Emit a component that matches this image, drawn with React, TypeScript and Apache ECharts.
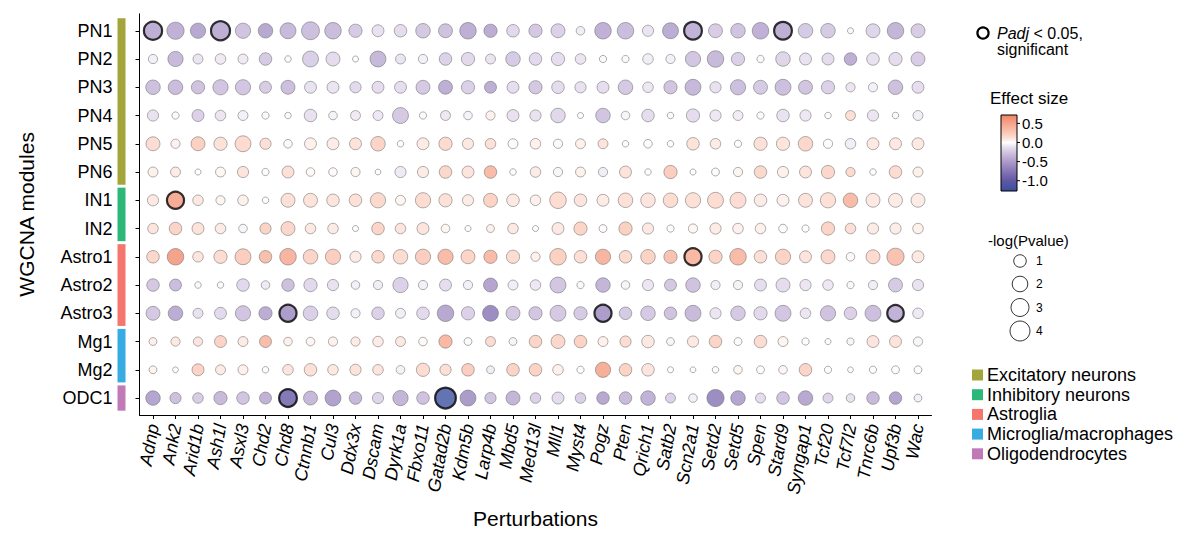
import React, { useEffect, useRef } from "react";
import * as echarts from "echarts";

// Perturbed genes (columns) and WGCNA modules (rows)
const genes = [
  "Adnp", "Ank2", "Arid1b", "Ash1l", "Asxl3", "Chd2", "Chd8", "Ctnnb1", "Cul3", "Ddx3x",
  "Dscam", "Dyrk1a", "Fbxo11", "Gatad2b", "Kdm5b", "Larp4b", "Mbd5", "Med13l", "Mll1", "Myst4",
  "Pogz", "Pten", "Qrich1", "Satb2", "Scn2a1", "Setd2", "Setd5", "Spen", "Stard9", "Syngap1",
  "Tcf20", "Tcf7l2", "Tnrc6b", "Upf3b", "Wac",
];
const modules = ["PN1", "PN2", "PN3", "PN4", "PN5", "PN6", "IN1", "IN2", "Astro1", "Astro2", "Astro3", "Mg1", "Mg2", "ODC1"];

// Effect size per module, one value per gene
const effectPN1 = [-0.5, -0.48, -0.55, -0.5, -0.35, -0.55, -0.42, -0.38, -0.4, -0.3, -0.15, -0.18, -0.32, -0.36, -0.5, -0.52, -0.2, -0.32, -0.25, -0.08, -0.48, -0.4, -0.13, -0.52, -0.47, -0.28, -0.35, -0.48, -0.5, -0.3, -0.3, -0.03, -0.22, -0.45, -0.28];
const effectPN2 = [-0.07, -0.42, -0.13, -0.1, -0.1, -0.3, -0.02, -0.26, -0.18, -0.01, -0.43, -0.13, -0.07, -0.24, -0.2, -0.13, -0.3, -0.2, -0.17, -0.13, -0.03, -0.03, -0.08, -0.07, -0.33, -0.42, -0.26, -0.03, -0.22, -0.14, -0.18, -0.5, -0.14, -0.18, -0.28];
const effectPN3 = [-0.37, -0.4, -0.36, -0.34, -0.33, -0.28, -0.38, -0.14, -0.13, -0.19, -0.18, -0.17, -0.31, -0.5, -0.26, -0.5, -0.17, -0.32, -0.18, -0.15, -0.17, -0.31, -0.11, -0.34, -0.43, -0.15, -0.38, -0.3, -0.38, -0.34, -0.25, -0.12, -0.07, -0.37, -0.17];
const effectPN4 = [-0.14, -0.02, -0.25, -0.12, -0.07, -0.03, -0.02, -0.15, -0.06, -0.1, -0.11, -0.31, -0.02, -0.11, -0.06, 0.06, -0.15, -0.14, -0.21, -0.01, -0.34, -0.05, -0.18, -0.03, -0.18, -0.11, -0.09, -0.02, -0.14, -0.11, -0.02, 0.17, -0.12, -0.03, -0.08];
const effectPN5 = [0.18, 0.06, 0.28, 0.15, 0.2, 0.17, 0.03, 0.07, 0.08, 0.14, 0.24, 0.01, 0.09, 0.2, 0.1, 0.16, 0.03, 0.06, -0.02, 0.07, 0.14, 0.01, 0.02, 0.0, 0.14, 0.09, 0.01, 0.16, 0.12, 0.22, 0.02, -0.08, 0.1, 0.1, 0.1];
const effectPN6 = [0.07, 0.09, 0.0, 0.04, 0.12, 0.02, 0.16, 0.03, 0.02, 0.05, 0.01, -0.1, 0.09, 0.22, 0.12, 0.45, 0.01, 0.09, -0.04, 0.07, -0.08, 0.14, 0.0, 0.3, 0.0, 0.02, 0.05, 0.21, 0.07, 0.13, 0.22, 0.2, 0.0, 0.19, 0.07];
const effectIN1 = [0.1, 0.58, 0.1, 0.05, 0.07, 0.01, 0.16, 0.14, 0.12, 0.16, 0.21, 0.04, 0.19, 0.16, 0.09, 0.26, 0.1, 0.07, 0.19, 0.12, 0.09, 0.16, 0.12, 0.19, 0.16, 0.19, 0.18, 0.09, 0.06, 0.14, 0.16, 0.45, 0.1, 0.09, 0.09];
const effectIN2 = [0.12, 0.24, 0.14, 0.09, -0.05, 0.25, 0.22, 0.1, 0.09, 0.0, 0.24, 0.12, 0.12, 0.04, 0.0, 0.06, 0.1, 0.0, 0.1, 0.24, 0.02, 0.28, 0.1, 0.0, 0.04, 0.09, 0.06, 0.07, 0.02, 0.0, 0.24, 0.17, 0.09, 0.08, 0.07];
const effectAstro1 = [0.22, 0.66, 0.12, 0.19, 0.3, 0.42, 0.5, 0.24, 0.3, 0.09, 0.21, 0.19, 0.3, 0.45, 0.24, 0.45, 0.19, 0.07, 0.28, 0.17, 0.5, 0.2, 0.26, 0.4, 0.48, 0.26, 0.45, 0.17, 0.26, 0.12, 0.22, 0.03, 0.2, 0.4, 0.1];
const effectAstro2 = [-0.32, -0.4, -0.03, -0.02, -0.2, -0.1, -0.37, -0.2, -0.14, -0.07, -0.08, -0.25, -0.07, -0.17, -0.07, -0.58, -0.08, -0.11, -0.33, -0.03, -0.45, -0.05, -0.12, -0.32, -0.36, -0.08, -0.06, -0.17, -0.18, -0.12, -0.11, -0.03, -0.08, -0.3, -0.14];
const effectAstro3 = [-0.32, -0.52, -0.14, -0.19, -0.34, -0.52, -0.65, -0.26, -0.18, -0.07, -0.25, -0.08, -0.19, -0.55, -0.25, -0.78, -0.32, -0.33, -0.31, -0.3, -0.65, -0.3, -0.31, -0.36, -0.41, -0.12, -0.31, -0.2, -0.33, -0.12, -0.36, -0.25, -0.38, -0.47, -0.1];
const effectMg1 = [0.07, 0.1, 0.12, 0.25, 0.09, 0.44, 0.07, 0.04, 0.07, 0.09, 0.09, 0.1, 0.03, 0.48, -0.03, 0.19, -0.05, 0.24, 0.22, 0.26, 0.07, 0.19, 0.1, -0.05, 0.1, 0.24, 0.02, 0.19, 0.05, 0.01, 0.0, -0.05, 0.12, 0.14, -0.04];
const effectMg2 = [0.05, 0.0, 0.26, 0.09, 0.07, 0.0, 0.12, 0.16, 0.1, 0.14, 0.12, -0.06, 0.19, 0.17, 0.3, -0.08, 0.25, 0.26, 0.07, 0.0, 0.56, 0.25, 0.12, 0.0, 0.0, 0.0, 0.04, 0.02, 0.04, 0.24, 0.0, 0.0, 0.0, 0.02, 0.02];
const effectODC1 = [-0.57, -0.37, -0.28, -0.42, -0.34, -0.47, -0.98, -0.43, -0.6, -0.44, -0.22, -0.45, -0.36, -1.25, -0.66, -0.34, -0.45, -0.25, -0.18, -0.26, -0.55, -0.41, -0.47, -0.25, -0.07, -0.78, -0.57, -0.18, -0.34, -0.55, -0.22, -0.14, -0.42, -0.58, -0.07];

// -log(Pvalue) per module, one value per gene
const logpPN1 = [3.1, 2.65, 1.85, 3.5, 1.85, 1.6, 2.11, 2.96, 2.35, 1.2, 0.85, 1.0, 1.6, 1.41, 2.35, 1.2, 1.0, 1.2, 1.41, 0.22, 2.35, 2.35, 0.68, 2.11, 2.9, 1.41, 1.6, 2.35, 2.9, 1.6, 1.6, 0.02, 1.41, 2.35, 1.41];
const logpPN2 = [0.31, 1.85, 0.43, 0.54, 0.43, 1.0, 0.04, 2.11, 1.41, 0.02, 2.11, 0.43, 0.31, 1.0, 1.2, 0.43, 1.6, 1.0, 1.2, 0.54, 0.09, 0.09, 0.54, 0.31, 1.85, 2.35, 1.2, 0.09, 1.6, 0.85, 0.85, 1.0, 1.0, 1.2, 1.41];
const logpPN3 = [1.6, 1.6, 1.2, 1.85, 1.85, 0.85, 1.41, 0.85, 0.85, 0.68, 0.85, 0.85, 1.41, 1.41, 1.2, 0.85, 0.85, 1.2, 1.0, 0.68, 0.85, 1.6, 0.54, 1.2, 2.11, 0.68, 1.85, 1.41, 2.11, 1.41, 1.2, 0.31, 0.31, 1.6, 0.85];
const logpPN4 = [0.68, 0.09, 0.85, 0.54, 0.43, 0.09, 0.04, 1.0, 0.22, 0.43, 0.43, 2.11, 0.09, 0.43, 0.22, 0.31, 0.85, 0.68, 1.6, 0.02, 1.6, 0.22, 1.0, 0.04, 1.2, 0.68, 0.43, 0.09, 1.0, 0.68, 0.04, 0.43, 0.68, 0.04, 0.43];
const logpPN5 = [1.41, 0.31, 1.41, 1.2, 2.11, 0.68, 0.22, 0.85, 0.85, 0.85, 1.6, 0.04, 0.85, 1.2, 0.68, 0.54, 0.43, 0.54, 0.31, 0.43, 0.43, 0.04, 0.22, 0.04, 1.0, 0.54, 0.09, 1.2, 1.2, 1.6, 0.31, 0.54, 0.85, 0.85, 0.85];
const logpPN6 = [0.43, 0.43, 0.02, 0.43, 0.68, 0.09, 0.85, 0.22, 0.22, 0.31, 0.01, 0.68, 0.68, 1.0, 0.85, 1.0, 0.04, 0.54, 0.31, 0.43, 0.31, 0.85, 0.04, 1.2, 0.02, 0.15, 0.31, 1.0, 0.68, 0.85, 1.2, 0.31, 0.04, 1.0, 0.43];
const logpIN1 = [0.68, 2.6, 0.54, 0.31, 0.54, 0.04, 1.41, 1.41, 1.0, 1.0, 1.85, 0.43, 1.85, 1.2, 0.68, 1.41, 1.0, 0.54, 2.35, 1.0, 0.85, 1.6, 1.6, 1.6, 1.85, 2.11, 2.11, 1.0, 0.85, 1.41, 1.85, 1.6, 1.41, 1.41, 1.41];
const logpIN2 = [0.54, 1.0, 0.85, 0.54, 0.22, 0.68, 1.41, 0.54, 0.54, 0.02, 1.0, 0.54, 0.85, 0.22, 0.02, 0.15, 0.54, 0.02, 0.85, 1.2, 0.15, 1.2, 0.68, 0.09, 0.31, 0.68, 0.54, 0.54, 0.22, 0.09, 1.2, 0.54, 0.68, 0.68, 0.54];
const logpAstro1 = [1.0, 2.35, 0.54, 1.2, 2.11, 1.0, 2.35, 1.6, 1.85, 0.68, 1.0, 1.6, 1.85, 1.85, 1.41, 1.2, 1.2, 0.31, 2.35, 1.0, 1.85, 1.0, 1.6, 1.2, 2.6, 1.2, 2.35, 1.0, 1.85, 0.85, 1.41, 0.22, 1.41, 2.65, 0.85];
const logpAstro2 = [1.0, 0.85, 0.04, 0.04, 1.0, 0.22, 1.0, 1.2, 0.68, 0.22, 0.31, 1.85, 0.31, 0.85, 0.31, 1.41, 0.43, 0.54, 2.11, 0.09, 1.6, 0.22, 0.68, 0.85, 1.6, 0.31, 0.31, 0.85, 1.41, 0.68, 0.54, 0.09, 0.31, 1.41, 0.68];
const logpAstro3 = [1.41, 1.6, 0.43, 0.85, 1.85, 1.2, 2.6, 1.6, 1.0, 0.31, 1.0, 0.43, 1.0, 2.35, 1.2, 2.11, 1.41, 1.2, 2.11, 1.2, 2.6, 1.0, 1.6, 1.0, 2.11, 0.68, 1.6, 1.2, 2.11, 0.54, 1.85, 1.0, 2.11, 2.35, 0.54];
const logpMg1 = [0.15, 0.31, 0.31, 0.85, 0.43, 0.85, 0.22, 0.22, 0.31, 0.31, 0.54, 0.43, 0.22, 1.2, 0.15, 0.43, 0.15, 1.0, 1.41, 1.0, 0.43, 0.68, 1.0, 0.15, 0.68, 1.0, 0.15, 1.0, 0.43, 0.09, 0.02, 0.09, 0.85, 0.85, 0.31];
const logpMg2 = [0.15, 0.01, 0.85, 0.43, 0.43, 0.04, 0.54, 1.0, 0.54, 0.68, 0.54, 0.22, 1.2, 0.68, 1.0, 0.15, 1.0, 1.0, 0.54, 0.09, 1.85, 1.0, 1.0, 0.02, 0.01, 0.04, 0.22, 0.15, 0.22, 1.0, 0.09, 0.01, 0.09, 0.15, 0.15];
const logpODC1 = [1.6, 0.68, 0.54, 1.2, 1.0, 0.85, 2.9, 1.41, 2.11, 1.0, 0.68, 1.85, 1.0, 4.4, 2.11, 0.68, 1.41, 0.54, 0.85, 0.54, 1.0, 1.0, 1.6, 0.43, 0.22, 2.65, 1.6, 0.43, 1.0, 1.6, 0.43, 0.22, 1.0, 1.0, 0.15];

const effectRows = [effectPN1, effectPN2, effectPN3, effectPN4, effectPN5, effectPN6, effectIN1, effectIN2, effectAstro1, effectAstro2, effectAstro3, effectMg1, effectMg2, effectODC1];
const logpRows = [logpPN1, logpPN2, logpPN3, logpPN4, logpPN5, logpPN6, logpIN1, logpIN2, logpAstro1, logpAstro2, logpAstro3, logpMg1, logpMg2, logpODC1];

// Module x gene pairs with Padj < 0.05
const significant: [string, string][] = [
  ["PN1", "Adnp"], ["PN1", "Ash1l"], ["PN1", "Scn2a1"], ["PN1", "Stard9"],
  ["IN1", "Ank2"], ["Astro1", "Scn2a1"],
  ["Astro3", "Chd8"], ["Astro3", "Pogz"], ["Astro3", "Upf3b"],
  ["ODC1", "Chd8"], ["ODC1", "Gatad2b"],
];

// Cell type of each module block
const cellTypes = ["Excitatory neurons", "Inhibitory neurons", "Astroglia", "Microglia/macrophages", "Oligodendrocytes"];
const cellTypeColors = ["#a3a53a", "#2cb77b", "#f4766e", "#37ace2", "#c07ab8"];
const cellTypeRows = [["PN1", "PN6"], ["IN1", "IN2"], ["Astro1", "Astro3"], ["Mg1", "Mg2"], ["ODC1", "ODC1"]];

// Effect size colour scale
const effectMin = -1.27;
const effectMax = 0.72;
const effectStops: [number, string][] = [
  [-1.27, "#3a4f9f"], [-1.0, "#6157a3"], [-0.75, "#8876b6"], [-0.5, "#ae9bca"],
  [-0.25, "#d3c6e2"], [-0.1, "#ebe4f1"], [0, "#ffffff"], [0.1, "#fde3da"],
  [0.25, "#fbc9b8"], [0.5, "#f6a48b"], [0.72, "#ef8364"],
];
const effectTicks = [0.5, 0.0, -0.5, -1.0];
const sizeBreaks = [1, 2, 3, 4];

const FONT = "'Liberation Sans', Arial, Helvetica, sans-serif";

const sizeOf = (v: number) => 5 + 7.5 * Math.sqrt(v);

function hexRgb(h: string) {
  const n = parseInt(h.slice(1), 16);
  return [(n >> 16) & 255, (n >> 8) & 255, n & 255];
}
function effectColor(v: number) {
  const x = Math.max(effectMin, Math.min(effectMax, v));
  for (let i = 0; i < effectStops.length - 1; i++) {
    const [a, ca] = effectStops[i];
    const [b, cb] = effectStops[i + 1];
    if (x >= a && x <= b) {
      const t = (x - a) / (b - a);
      const p = hexRgb(ca), q = hexRgb(cb);
      const c = p.map((u, k) => Math.round(u + (q[k] - u) * t));
      return `rgb(${c[0]},${c[1]},${c[2]})`;
    }
  }
  return effectStops[effectStops.length - 1][1];
}

export default function App() {
  const ref = useRef<HTMLDivElement>(null);

  useEffect(() => {
    if (!ref.current) return;
    const chart = echarts.init(ref.current, undefined, { renderer: "svg" });

    const sigSet = new Set(significant.map(([m, g]) => `${m}|${g}`));
    const points: any[] = [];
    modules.forEach((m, r) => {
      genes.forEach((g, c) => {
        const sig = sigSet.has(`${m}|${g}`);
        points.push({
          value: [c, r, effectRows[r][c], logpRows[r][c]],
          itemStyle: sig
            ? { borderColor: "#000000", borderWidth: 2.2 }
            : { borderColor: "#707070", borderWidth: 0.7 },
        });
      });
    });

    const stripData = cellTypeRows.map(([a, b], k) => [modules.indexOf(a), modules.indexOf(b), k]);

    const nColors = 80;
    const mapColors = Array.from({ length: nColors }, (_, i) =>
      effectColor(effectMin + ((effectMax - effectMin) * i) / (nColors - 1))
    );

    // Colour bar legend
    const barX = 1001, barY = 115, barW = 16, barH = 76;
    const barYOf = (v: number) => barY + ((effectMax - v) / (effectMax - effectMin)) * barH;
    const gradStops = effectStops
      .map(([v, c]) => ({ offset: (effectMax - v) / (effectMax - effectMin), color: c }))
      .sort((a, b) => a.offset - b.offset);

    const graphics: any[] = [
      { type: "circle", shape: { cx: 983, cy: 33, r: 5.6 }, style: { fill: "none", stroke: "#000", lineWidth: 2.2 } },
      {
        type: "text", x: 997, y: 25,
        style: {
          text: "{i|Padj} < 0.05,\nsignificant", fontSize: 16, lineHeight: 16, fontFamily: FONT, fill: "#000",
          verticalAlign: "top",
          rich: { i: { fontStyle: "italic", fontSize: 16, lineHeight: 16, fontFamily: FONT, fill: "#000" } },
        },
      },
      { type: "text", x: 990, y: 98, style: { text: "Effect size", fontSize: 17, fontFamily: FONT, fill: "#000", verticalAlign: "middle" } },
      {
        type: "rect", shape: { x: barX, y: barY, width: barW, height: barH },
        style: { fill: new echarts.graphic.LinearGradient(0, 0, 0, 1, gradStops), stroke: "#000", lineWidth: 1 },
      },
      { type: "text", x: 988, y: 240, style: { text: "-log(Pvalue)", fontSize: 15, fontFamily: FONT, fill: "#000", verticalAlign: "middle" } },
    ];
    effectTicks.forEach((t) => {
      const y = barYOf(t);
      graphics.push({ type: "line", shape: { x1: barX + barW, y1: y, x2: barX + barW + 3, y2: y }, style: { stroke: "#000", lineWidth: 1 } });
      graphics.push({
        type: "text", x: barX + barW + 5, y,
        style: { text: t.toFixed(1), fontSize: 15, fontFamily: FONT, fill: "#000", verticalAlign: "middle" },
      });
    });
    const sizeYs = [261, 284, 307.5, 331];
    sizeBreaks.forEach((s, i) => {
      graphics.push({ type: "circle", shape: { cx: 1020, cy: sizeYs[i], r: sizeOf(s) / 2 }, style: { fill: "none", stroke: "#000", lineWidth: 0.8 } });
      graphics.push({ type: "text", x: 1036, y: sizeYs[i], style: { text: String(s), fontSize: 12, fontFamily: FONT, fill: "#000", verticalAlign: "middle" } });
    });
    cellTypes.forEach((name, i) => {
      const y = 375 + i * 19.7;
      graphics.push({ type: "rect", shape: { x: 972, y: y - 5.5, width: 11, height: 11 }, style: { fill: cellTypeColors[i] } });
      graphics.push({ type: "text", x: 987, y, style: { text: name, fontSize: 18, fontFamily: FONT, fill: "#000", verticalAlign: "middle" } });
    });

    chart.setOption({
      animation: false,
      textStyle: { fontFamily: FONT },
      grid: { left: 139.5, top: 13.8, width: 792, height: 406.7, containLabel: false },
      xAxis: {
        type: "value", min: -0.6, max: 34.6,
        axisLine: { show: true, onZero: false, lineStyle: { color: "#000", width: 1 } },
        axisTick: { show: true, length: 4, customValues: genes.map((_, i) => i), lineStyle: { color: "#000" } },
        axisLabel: {
          customValues: genes.map((_, i) => i), formatter: (v: number) => genes[Math.round(v)],
          rotate: 80, fontStyle: "italic", fontSize: 18, color: "#000", margin: 9, fontFamily: FONT,
        },
        splitLine: { show: false },
        name: "Perturbations", nameLocation: "middle", nameGap: 93,
        nameTextStyle: { fontSize: 21, color: "#000", fontFamily: FONT },
      },
      yAxis: {
        type: "value", inverse: true, min: -0.6, max: 13.6,
        axisLine: { show: true, onZero: false, lineStyle: { color: "#000", width: 1 } },
        axisTick: { show: true, length: 4, customValues: modules.map((_, i) => i), lineStyle: { color: "#000" } },
        axisLabel: {
          customValues: modules.map((_, i) => i), formatter: (v: number) => modules[Math.round(v)],
          fontSize: 18, color: "#000", margin: 27, fontFamily: FONT,
        },
        splitLine: { show: false },
        name: "WGCNA modules", nameLocation: "middle", nameGap: 103,
        nameTextStyle: { fontSize: 21, color: "#000", fontFamily: FONT },
      },
      visualMap: {
        show: false, type: "continuous", min: effectMin, max: effectMax, dimension: 2, seriesIndex: 0,
        inRange: { color: mapColors },
      },
      series: [
        {
          type: "scatter",
          data: points,
          symbol: "circle",
          symbolSize: (val: number[]) => sizeOf(val[3]),
          silent: true,
          z: 3,
        },
        {
          type: "custom",
          clip: false,
          silent: true,
          data: stripData,
          renderItem: (_p: any, api: any) => {
            const r0 = api.value(0), r1 = api.value(1), k = api.value(2);
            const top = api.coord([-0.6, r0 - 0.5])[1];
            const bot = api.coord([-0.6, r1 + 0.5])[1];
            const x = api.coord([-0.6, 0])[0] - 22;
            return {
              type: "rect",
              shape: { x, y: top + 1.5, width: 8, height: bot - top - 3 },
              style: { fill: cellTypeColors[k] },
            };
          },
        },
      ],
      graphic: graphics,
    });

    return () => chart.dispose();
  }, []);

  return <div ref={ref} style={{ position: "fixed", left: 0, top: 0, width: 1186, height: 534, background: "#fff" }} />;
}
